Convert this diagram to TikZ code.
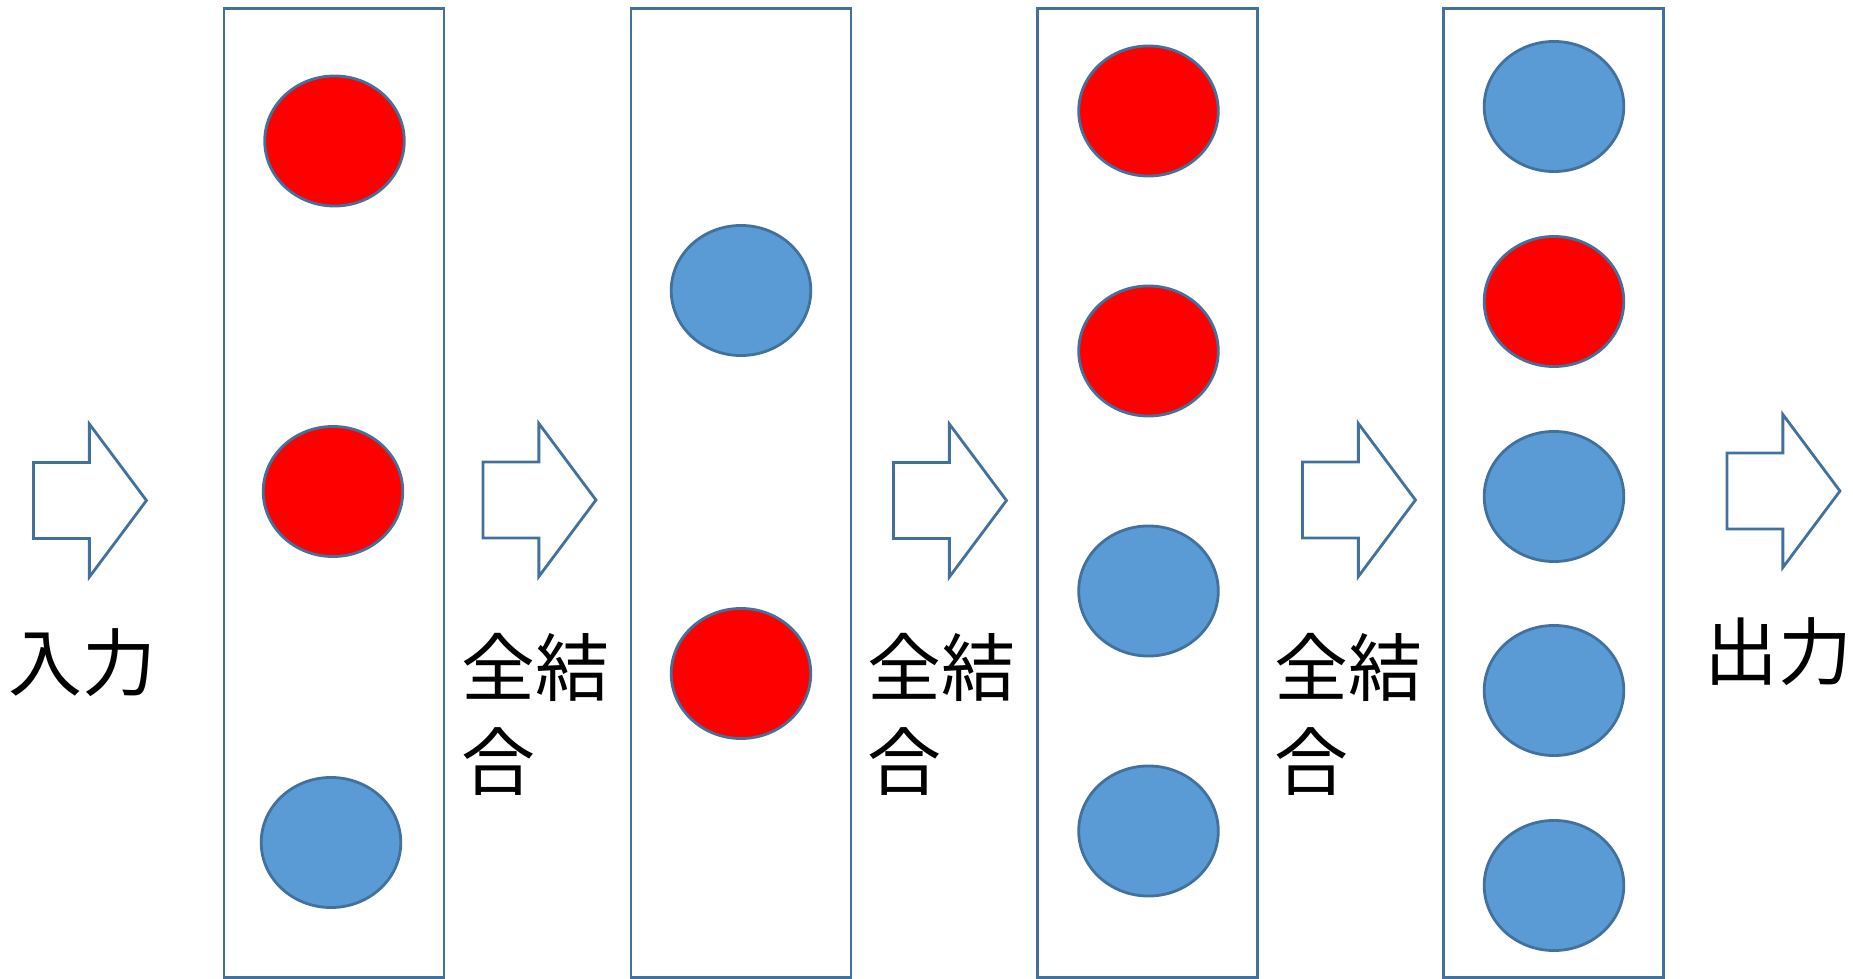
\documentclass[tikz,border=0pt]{standalone}
\usepackage{fontspec}
\newfontfamily\jpfont{Noto Sans CJK JP}
\usepackage{tikz}
\usetikzlibrary{shapes.geometric,shapes.arrows}
\definecolor{unitred}{HTML}{FF0000}
\definecolor{unitblue}{HTML}{5B9BD5}
\definecolor{edgeblue}{HTML}{41719C}

\begin{document}
\begin{tikzpicture}[x=0.01cm, y=-0.01cm,
    every node/.style={font=\jpfont\fontsize{21}{26.5}\selectfont},
    layer/.style={draw=edgeblue, line width=0.8pt, minimum width=2.2cm,
                  minimum height=9.68cm, inner sep=0pt},
    unit/.style={ellipse, draw=edgeblue, line width=0.8pt, minimum width=1.395cm,
                 minimum height=1.3cm, inner sep=0pt},
    fatarrow/.style={single arrow, draw=edgeblue, line width=0.8pt, anchor=tail,
                     inner xsep=0pt, inner ysep=0.365cm, single arrow head extend=0.385cm,
                     single arrow tip angle=106.5, minimum height=1.13cm}]
    \useasboundingbox (0,0) rectangle (1853,979);

    % layers
    \node[layer] (l1) at (334,493) {};
    \node[layer] (l2) at (741,493) {};
    \node[layer] (l3) at (1147.5,493) {};
    \node[layer] (l4) at (1553.5,493) {};

    % units in each layer
    \node[unit, fill=unitred]  (l1a) at (334.5,141) {};
    \node[unit, fill=unitred]  (l1b) at (333,491.5) {};
    \node[unit, fill=unitblue] (l1c) at (331,842.5) {};

    \node[unit, fill=unitblue] (l2a) at (741,290.5) {};
    \node[unit, fill=unitred]  (l2b) at (741,673.5) {};

    \node[unit, fill=unitred]  (l3a) at (1148.5,111) {};
    \node[unit, fill=unitred]  (l3b) at (1148.5,351) {};
    \node[unit, fill=unitblue] (l3c) at (1148.5,591) {};
    \node[unit, fill=unitblue] (l3d) at (1148.5,831) {};

    \node[unit, fill=unitblue] (l4a) at (1554,106.5) {};
    \node[unit, fill=unitred]  (l4b) at (1554,301.5) {};
    \node[unit, fill=unitblue] (l4c) at (1554,496.5) {};
    \node[unit, fill=unitblue] (l4d) at (1554,690.5) {};
    \node[unit, fill=unitblue] (l4e) at (1554,885.5) {};

    % arrows between layers
    \node[fatarrow] (a0) at (32,500.5) {};
    \node[fatarrow] (a1) at (481.5,500) {};
    \node[fatarrow] (a2) at (892,500.5) {};
    \node[fatarrow] (a3) at (1301,500) {};
    \node[fatarrow] (a4) at (1725.5,491) {};

    % labels
    \node[anchor=west, inner sep=0pt] (inlbl) at (8,663) {入力};
    \node[anchor=north west, align=left, inner sep=0pt] (fc1) at (461,633) {全結\\合};
    \node[anchor=north west, align=left, inner sep=0pt] (fc2) at (867,633) {全結\\合};
    \node[anchor=north west, align=left, inner sep=0pt] (fc3) at (1274,633) {全結\\合};
    \node[anchor=west, inner sep=0pt] (outlbl) at (1704,652) {出力};
  \end{tikzpicture}
\end{document}
